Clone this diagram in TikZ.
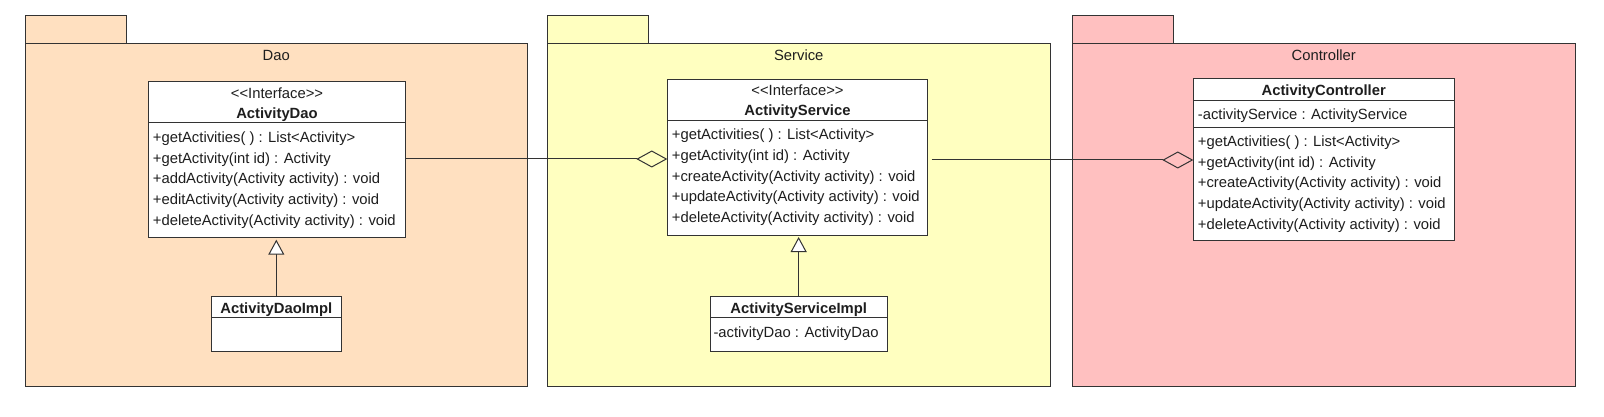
\documentclass[tikz,border=0pt]{standalone}
\usepackage{fontspec}
\setmainfont{Liberation Sans}
\usetikzlibrary{arrows.meta}
\definecolor{daofill}{RGB}{255,224,192}
\definecolor{svcfill}{RGB}{255,255,192}
\definecolor{ctlfill}{RGB}{255,192,192}
\definecolor{edgec}{RGB}{51,51,51}
\definecolor{ink}{RGB}{30,30,30}
\newcommand{\umlfont}{\fontsize{14.8}{18}\selectfont}
\begin{document}
\begin{tikzpicture}[x=1pt,y=-1pt,
  box/.style={draw=edgec, line width=1pt, anchor=north west, inner sep=0pt, outer sep=0pt},
  pkg/.style={box},
  cls/.style={box, fill=white},
  sep/.style={draw=edgec, line width=1pt},
  mtxt/.style={anchor=base west, inner sep=0pt, font=\umlfont, text=ink},
  ctxt/.style={anchor=base, inner sep=0pt, font=\umlfont, text=ink},
  btxt/.style={anchor=base, inner sep=0pt, font=\umlfont\bfseries, text=ink},
  agg/.style={draw=edgec, line width=1pt, -{Diamond[open, length=31pt, width=17pt]}},
  gen/.style={draw=edgec, line width=1pt, -{Triangle[length=15pt, width=16pt, fill=white]}}]
\useasboundingbox (0,0) rectangle (1604,417);

% ---------- packages ----------
\node[pkg, fill=daofill, minimum width=101pt, minimum height=28pt] (daoTab) at (25,16) {};
\node[pkg, fill=daofill, minimum width=502.5pt, minimum height=342.5pt] (daoPkg) at (25,44) {};
\node[ctxt] (daoLbl) at (276.25,61) {Dao};

\node[pkg, fill=svcfill, minimum width=101pt, minimum height=28pt] (svcTab) at (547.5,16) {};
\node[pkg, fill=svcfill, minimum width=502.5pt, minimum height=342.5pt] (svcPkg) at (547.5,44) {};
\node[ctxt] (svcLbl) at (798.75,61) {Service};

\node[pkg, fill=ctlfill, minimum width=101pt, minimum height=28pt] (ctlTab) at (1072.5,16) {};
\node[pkg, fill=ctlfill, minimum width=502.5pt, minimum height=342.5pt] (ctlPkg) at (1072.5,44) {};
\node[ctxt] (ctlLbl) at (1323.75,61) {Controller};

% ---------- ActivityDao ----------
\node[cls, minimum width=256.6pt, minimum height=155.7pt] (dao) at (148.7,82) {};
\draw[sep] (dao.west |- 0,122.7) -- (dao.east |- 0,122.7);
\node[ctxt] (daoSt) at (277,98.5) {<{}<Interface>{}>};
\node[btxt] (daoNm) at (277,118.5) {ActivityDao};
\node[mtxt] (daoM1) at (152.7,142.7) {+getActivities( ) : List<Activity>};
\node[mtxt] (daoM2) at (152.7,163.3) {+getActivity(int id) : Activity};
\node[mtxt] (daoM3) at (152.7,183.9) {+addActivity(Activity activity) : void};
\node[mtxt] (daoM4) at (152.7,204.5) {+editActivity(Activity activity) : void};
\node[mtxt] (daoM5) at (152.7,225.1) {+deleteActivity(Activity activity) : void};

% ---------- ActivityDaoImpl ----------
\node[cls, minimum width=130pt, minimum height=55pt] (daoImpl) at (211.3,296.7) {};
\draw[sep] (daoImpl.west |- 0,317.7) -- (daoImpl.east |- 0,317.7);
\node[btxt] (daoImplNm) at (276.3,313) {ActivityDaoImpl};

% ---------- ActivityService ----------
\node[cls, minimum width=260.4pt, minimum height=155.7pt] (svc) at (667.3,79.3) {};
\draw[sep] (svc.west |- 0,120.7) -- (svc.east |- 0,120.7);
\node[ctxt] (svcSt) at (797.5,96) {<{}<Interface>{}>};
\node[btxt] (svcNm) at (797.5,116) {ActivityService};
\node[mtxt] (svcM1) at (671.7,140) {+getActivities( ) : List<Activity>};
\node[mtxt] (svcM2) at (671.7,160.6) {+getActivity(int id) : Activity};
\node[mtxt] (svcM3) at (671.7,181.2) {+createActivity(Activity activity) : void};
\node[mtxt] (svcM4) at (671.7,201.8) {+updateActivity(Activity activity) : void};
\node[mtxt] (svcM5) at (671.7,222.4) {+deleteActivity(Activity activity) : void};

% ---------- ActivityServiceImpl ----------
\node[cls, minimum width=177.3pt, minimum height=55pt] (svcImpl) at (710,296.7) {};
\draw[sep] (svcImpl.west |- 0,317.7) -- (svcImpl.east |- 0,317.7);
\node[btxt] (svcImplNm) at (798.7,313.3) {ActivityServiceImpl};
\node[mtxt] (svcImplA) at (713.3,337.7) {-activityDao : ActivityDao};

% ---------- ActivityController ----------
\node[cls, minimum width=260.7pt, minimum height=161.7pt] (ctl) at (1193.3,79) {};
\draw[sep] (ctl.west |- 0,100.7) -- (ctl.east |- 0,100.7);
\draw[sep] (ctl.west |- 0,127.3) -- (ctl.east |- 0,127.3);
\node[btxt] (ctlNm) at (1323.7,96) {ActivityController};
\node[mtxt] (ctlA) at (1197.7,120) {-activityService : ActivityService};
\node[mtxt] (ctlM1) at (1197.7,146.7) {+getActivities( ) : List<Activity>};
\node[mtxt] (ctlM2) at (1197.7,167.3) {+getActivity(int id) : Activity};
\node[mtxt] (ctlM3) at (1197.7,187.9) {+createActivity(Activity activity) : void};
\node[mtxt] (ctlM4) at (1197.7,208.5) {+updateActivity(Activity activity) : void};
\node[mtxt] (ctlM5) at (1197.7,229.1) {+deleteActivity(Activity activity) : void};

% ---------- connectors ----------
\draw[gen, shorten >=2pt] (daoImpl.north) -- (daoImpl.north |- dao.south);
\draw[gen, shorten >=2pt] (svcImpl.north) -- (svcImpl.north |- svc.south);
\draw[agg] (dao.east |- 0,159) -- (svc.west |- 0,159);
\draw[agg, shorten <=4pt] (svc.east |- 0,160) -- (ctl.west |- 0,160);
\end{tikzpicture}
\end{document}
